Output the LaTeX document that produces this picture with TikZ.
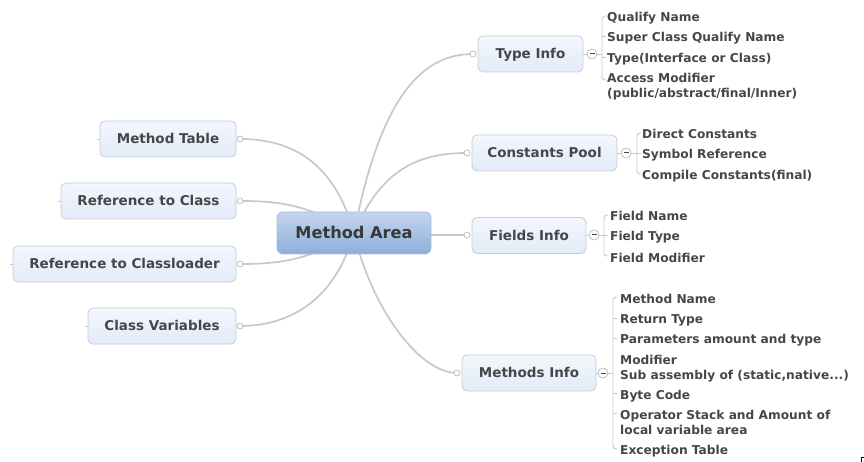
\documentclass[tikz,border=0pt]{standalone}
\usepackage{fontspec}
\setmainfont{DejaVu Sans}
\usetikzlibrary{backgrounds}
\definecolor{txt}{HTML}{464646}
\definecolor{boxline}{HTML}{C4CCD8}
\definecolor{boxtop}{HTML}{F3F7FE}
\definecolor{boxbot}{HTML}{E2EBF8}
\definecolor{ctop}{HTML}{C4D5EE}
\definecolor{cbot}{HTML}{8DAEDB}
\definecolor{cline}{HTML}{A9BCD8}
\definecolor{linegray}{HTML}{C8C8C8}
\definecolor{dotgray}{HTML}{B0B0B0}
\begin{document}
\begin{tikzpicture}[x=1pt,y=-1pt,
  font=\bfseries\fontsize{12.2}{14}\selectfont, text=txt,
  topic/.style={rounded corners=5pt, draw=boxline, line width=0.8pt, top color=boxtop, bottom color=boxbot, minimum height=36pt, inner sep=0pt, text height=9.8pt, text depth=0pt, font=\bfseries\fontsize{13.5}{16}\selectfont},
  central/.style={rounded corners=6pt, draw=cline, line width=0.8pt, top color=ctop, bottom color=cbot, minimum width=154pt, minimum height=42pt, inner sep=0pt, text height=11.8pt, text depth=0pt, text=black!78, font=\bfseries\fontsize{16.2}{19}\selectfont},
  conn/.style={draw=linegray, line width=1.7pt},
  thin/.style={draw=linegray, line width=0.9pt},
  dot/.style={circle, draw=dotgray, fill=white, inner sep=0pt, minimum size=6pt, line width=0.6pt},
  minus/.style={circle, draw=dotgray, fill=white, minimum size=10pt, inner sep=0pt, line width=0.6pt},
  leaf/.style={anchor=base west, inner sep=0pt, yshift=-1pt}
]
\useasboundingbox (0,0) rectangle (864,462);

% central
\node[central] (mc) at (354,233) {Method Area};

% right topics
\node[topic, minimum width=105pt] (type) at (530.5,54) {Type Info};
\node[topic, minimum width=145pt] (const) at (544.5,153) {Constants Pool};
\node[topic, minimum width=114pt] (fields) at (529,235.5) {Fields Info};
\node[topic, minimum width=134pt] (methods) at (529,373) {Methods Info};

% left topics
\node[topic, minimum width=136pt] (mtab) at (168,139) {Method Table};
\node[topic, minimum width=175pt] (refc) at (148.5,201) {Reference to Class};
\node[topic, minimum width=223pt] (refcl) at (124.5,264) {Reference to Classloader};
\node[topic, minimum width=148pt] (cvar) at (162,326) {Class Variables};

% connector dots
\node[dot] (dtype) at (473,54) {};
\node[dot] (dconst) at (467,153) {};
\node[dot] (dfields) at (467,235) {};
\node[dot] (dmethods) at (457,373) {};
\node[dot] (dmtab) at (240,139) {};
\node[dot] (drefc) at (240,201) {};
\node[dot] (drefcl) at (240,264) {};
\node[dot] (dcvar) at (240,326) {};

% connectors
\begin{pgfonlayer}{background}
\draw[conn] (mc.center) .. controls (380,100) and (420,54) .. (dtype.center);
\draw[conn] (mc.center) .. controls (380,172) and (415,153) .. (dconst.center);
\draw[conn] (mc.center) -- (354,235) -- (dfields.center);
\draw[conn] (mc.center) .. controls (372,310) and (420,373) .. (dmethods.center);
\draw[conn] (mc.center) .. controls (335,165) and (295,139) .. (dmtab.center);
\draw[conn] (mc.center) .. controls (310,205) and (280,201) .. (drefc.center);
\draw[conn] (mc.center) .. controls (310,260) and (280,264) .. (drefcl.center);
\draw[conn] (mc.center) .. controls (335,300) and (290,326) .. (dcvar.center);
\end{pgfonlayer}

% left stubs
\draw[thin] (mtab.west) -- ++(-3,0);
\draw[thin] (refc.west) -- ++(-3,0);
\draw[thin] (refcl.west) -- ++(-3,0);
\draw[thin] (cvar.west) -- ++(-3,0);

% ---------- Type Info leaves
\node[minus] (mtype) at (592,54) {};
\draw[txt, line width=1pt] (589.5,54) -- (594.5,54);
\draw[thin] (type.east) -- (mtype.west);
\draw[thin] (mtype.east) -- (602,54);
\draw[thin, rounded corners=3pt] (606,16) -- (602,16) -- (602,80) -- (606,80);
\draw[thin] (602,36) -- (606,36);
\draw[thin] (602,57) -- (606,57);
\node[leaf] (t1) at (607,21) {Qualify Name};
\node[leaf] (t2) at (607,41) {Super Class Qualify Name};
\node[leaf] (t3) at (607,62) {Type(Interface or Class)};
\node[leaf] (t4) at (607,82) {Access Modifier};
\node[leaf] (t5) at (607,97) {(public/abstract/final/Inner)};

% ---------- Constants Pool leaves
\node[minus] (mconst) at (626,153) {};
\draw[txt, line width=1pt] (623.5,153) -- (628.5,153);
\draw[thin] (const.east) -- (mconst.west);
\draw[thin] (mconst.east) -- (641,153);
\draw[thin, rounded corners=3pt] (641,133) -- (637,133) -- (637,174) -- (641,174);
\node[leaf] (c1) at (642,138) {Direct Constants};
\node[leaf] (c2) at (642,158) {Symbol Reference};
\node[leaf] (c3) at (642,179) {Compile Constants(final)};

% ---------- Fields Info leaves
\node[minus] (mfields) at (594,235) {};
\draw[txt, line width=1pt] (591.5,235) -- (596.5,235);
\draw[thin] (fields.east) -- (mfields.west);
\draw[thin] (mfields.east) -- (608,235);
\draw[thin, rounded corners=3pt] (608,215) -- (604,215) -- (604,256) -- (608,256);
\node[leaf] (f1) at (610,220) {Field Name};
\node[leaf] (f2) at (610,240) {Field Type};
\node[leaf] (f3) at (610,261) {Field Modifier};

% ---------- Methods Info leaves
\node[minus] (mmeth) at (603,373) {};
\draw[txt, line width=1pt] (600.5,373) -- (605.5,373);
\draw[thin] (methods.east) -- (mmeth.west);
\draw[thin] (mmeth.east) -- (613,373);
\draw[thin, rounded corners=3pt] (617,297) -- (613,297) -- (613,449) -- (617,449);
\draw[thin] (613,318) -- (617,318);
\draw[thin] (613,338) -- (617,338);
\draw[thin] (613,393) -- (617,393);
\draw[thin] (613,413) -- (617,413);
\node[leaf] (m1) at (620,302) {Method Name};
\node[leaf] (m2) at (620,322) {Return Type};
\node[leaf] (m3) at (620,342) {Parameters amount and type};
\node[leaf] (m4) at (620,363) {Modifier};
\node[leaf] (m5) at (620,378) {Sub assembly of (static,native...)};
\node[leaf] (m6) at (620,398) {Byte Code};
\node[leaf] (m7) at (620,418) {Operator Stack and Amount of};
\node[leaf] (m8) at (620,433) {local variable area};
\node[leaf] (m9) at (620,453) {Exception Table};

% corner mark
\draw[black, line width=0.8pt] (861,462) -- (861,457) -- (864,457);
\end{tikzpicture}
\end{document}
